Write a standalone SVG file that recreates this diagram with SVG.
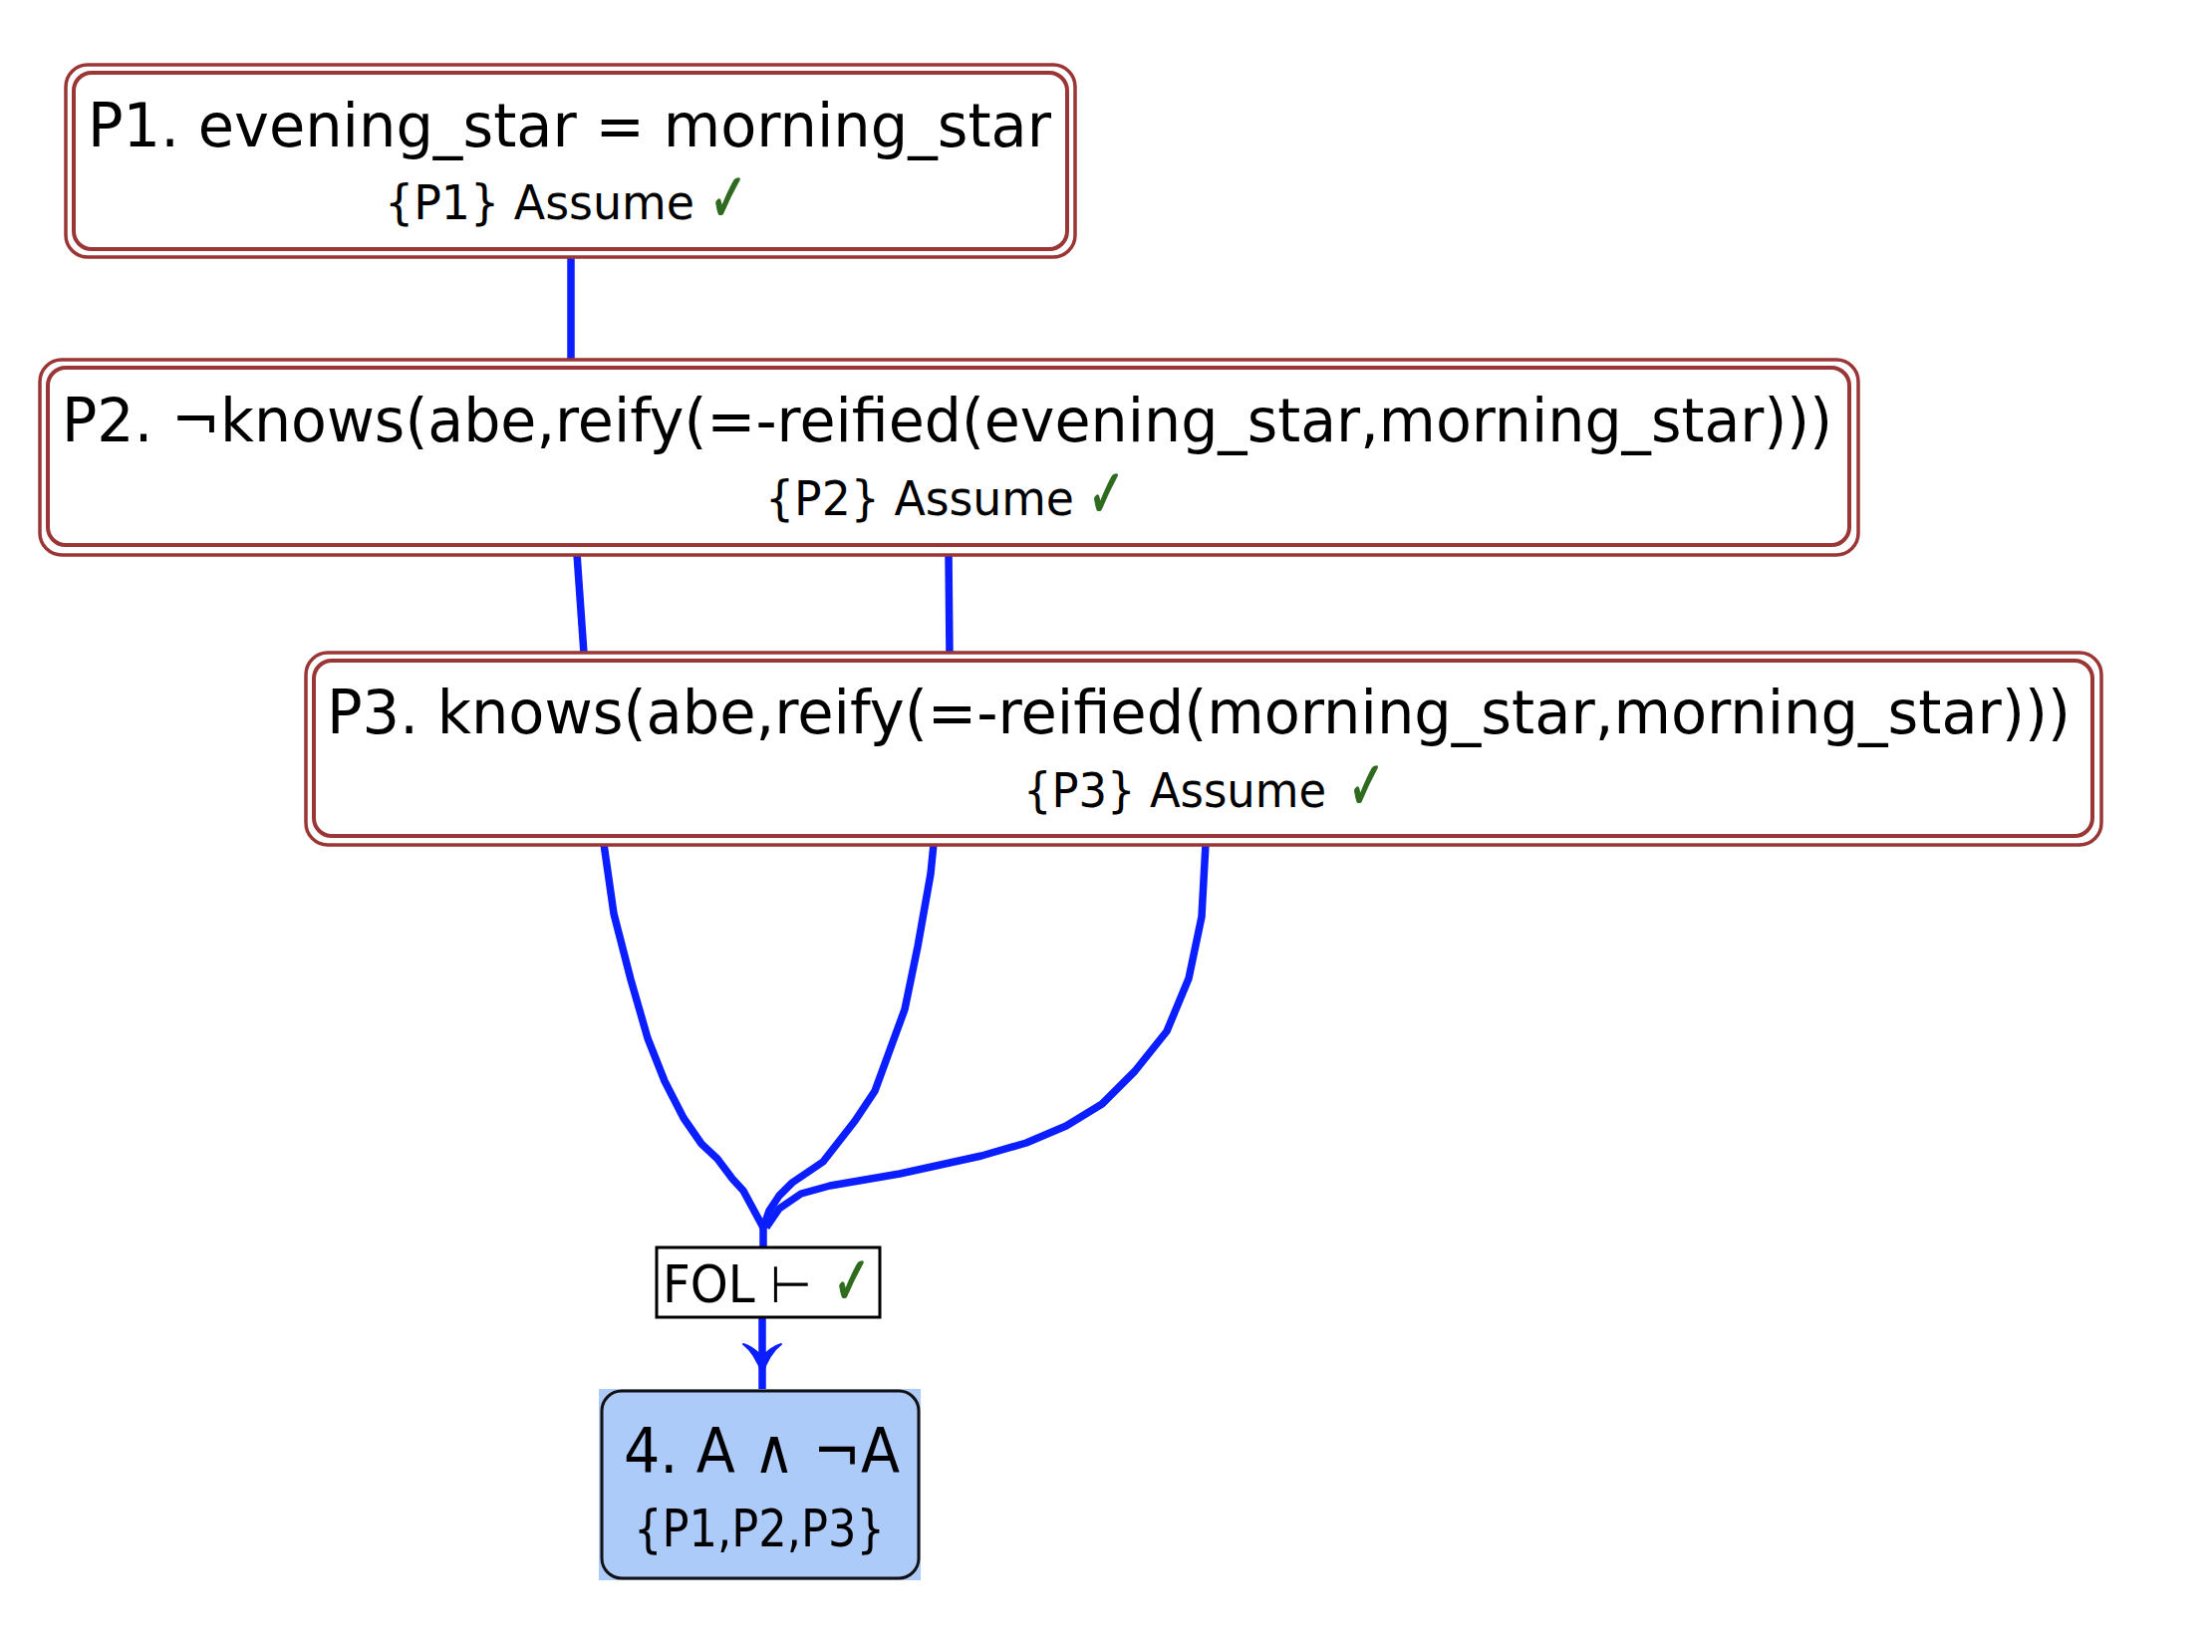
<svg xmlns="http://www.w3.org/2000/svg" width="2220" height="1658" viewBox="0 0 2220 1658">
<style>
.outer{fill:#ffffff;stroke:#9a3636;stroke-width:3.5}
.inner{fill:none;stroke:#9a3636;stroke-width:4}
.t{font-family:"DejaVu Sans","Liberation Sans",sans-serif;fill:#000}
.big{font-size:60px}
.small{font-size:48px}
.chk{font-family:"DejaVu Sans","Liberation Sans",sans-serif;fill:#2e6b1e;stroke:#2e6b1e;stroke-width:1.5;font-size:68px}
.edge{fill:none;stroke:#0a1eff;stroke-width:7.5;stroke-linejoin:round;stroke-linecap:butt}
</style>
<rect width="2220" height="1658" fill="#ffffff"/>
<g id="connectors">
<line class="edge" x1="573" y1="258" x2="573" y2="362"/>
<line class="edge" x1="579" y1="556" x2="586" y2="656"/>
<line class="edge" x1="952" y1="556" x2="953" y2="656"/>
<polyline class="edge" points="606,847 616,917 633,983 650,1042 667,1085 686,1122 704,1148 720,1163 735,1183 746,1195 766,1232"/>
<polyline class="edge" points="937,847 934,877 921,950 908,1013 878,1095 858,1125 826,1166 795,1187 782,1200 772,1215 766,1232"/>
<polyline class="edge" points="1210,847 1206,920 1193,982 1171,1035 1139,1075 1106,1108 1070,1130 1030,1147 985,1160 903,1178 833,1190 804,1198 782,1213 769,1232"/>
<line class="edge" x1="766" y1="1230" x2="766" y2="1252"/>
<line class="edge" x1="765" y1="1323" x2="765" y2="1396"/>
<path d="M746,1349 Q758,1358 765,1379 Q772,1358 784,1349 Q774,1352 765,1362 Q756,1352 746,1349 Z" fill="#0a1eff" stroke="#0a1eff" stroke-width="2" stroke-linejoin="round"/>
</g>
<g id="P1">
<rect class="outer" x="66" y="65" width="1013" height="193" rx="22"/>
<rect class="inner" x="74" y="73" width="997" height="177" rx="18"/>
<text class="t big" x="88" y="147" textLength="967" lengthAdjust="spacingAndGlyphs">P1. evening_star = morning_star</text>
<text class="t small" x="386" y="220" textLength="311" lengthAdjust="spacingAndGlyphs">{P1} Assume</text>
<text class="chk" x="712" y="222" textLength="38" lengthAdjust="spacingAndGlyphs">✓</text>
</g>
<g id="P2">
<rect class="outer" x="40" y="361" width="1825" height="196" rx="22"/>
<rect class="inner" x="48" y="369" width="1808" height="178" rx="18"/>
<text class="t big" x="62" y="443" textLength="1777" lengthAdjust="spacingAndGlyphs">P2.  ¬knows(abe,reify(=-reified(evening_star,morning_star)))</text>
<text class="t small" x="768" y="517" textLength="310" lengthAdjust="spacingAndGlyphs">{P2} Assume</text>
<text class="chk" x="1092" y="519" textLength="37" lengthAdjust="spacingAndGlyphs">✓</text>
</g>
<g id="P3">
<rect class="outer" x="307" y="655" width="1802" height="193" rx="22"/>
<rect class="inner" x="315" y="663" width="1785" height="176" rx="18"/>
<text class="t big" x="328" y="736" textLength="1750" lengthAdjust="spacingAndGlyphs">P3.  knows(abe,reify(=-reified(morning_star,morning_star)))</text>
<text class="t small" x="1027" y="810" textLength="304" lengthAdjust="spacingAndGlyphs">{P3} Assume</text>
<text class="chk" x="1353" y="812" textLength="37" lengthAdjust="spacingAndGlyphs">✓</text>
</g>
<g id="FOL">
<rect x="659" y="1252" width="224" height="70" fill="#ffffff" stroke="#000" stroke-width="3"/>
<text class="t" x="665" y="1307" font-size="51" textLength="150" lengthAdjust="spacingAndGlyphs">FOL ⊢</text>
<text class="chk" x="836" y="1309" font-size="72" textLength="38" lengthAdjust="spacingAndGlyphs">✓</text>
</g>
<g id="N4">
<rect x="601" y="1394" width="323" height="192" fill="#adcbf8"/>
<rect x="604" y="1396" width="318" height="188" rx="20" fill="#adcbf8" stroke="#111" stroke-width="3"/>
<text class="t" x="626" y="1478" font-size="62" textLength="277" lengthAdjust="spacingAndGlyphs">4. A ∧ ¬A</text>
<text class="t" x="636" y="1552" font-size="52" textLength="252" lengthAdjust="spacingAndGlyphs">{P1,P2,P3}</text>
</g>
</svg>
